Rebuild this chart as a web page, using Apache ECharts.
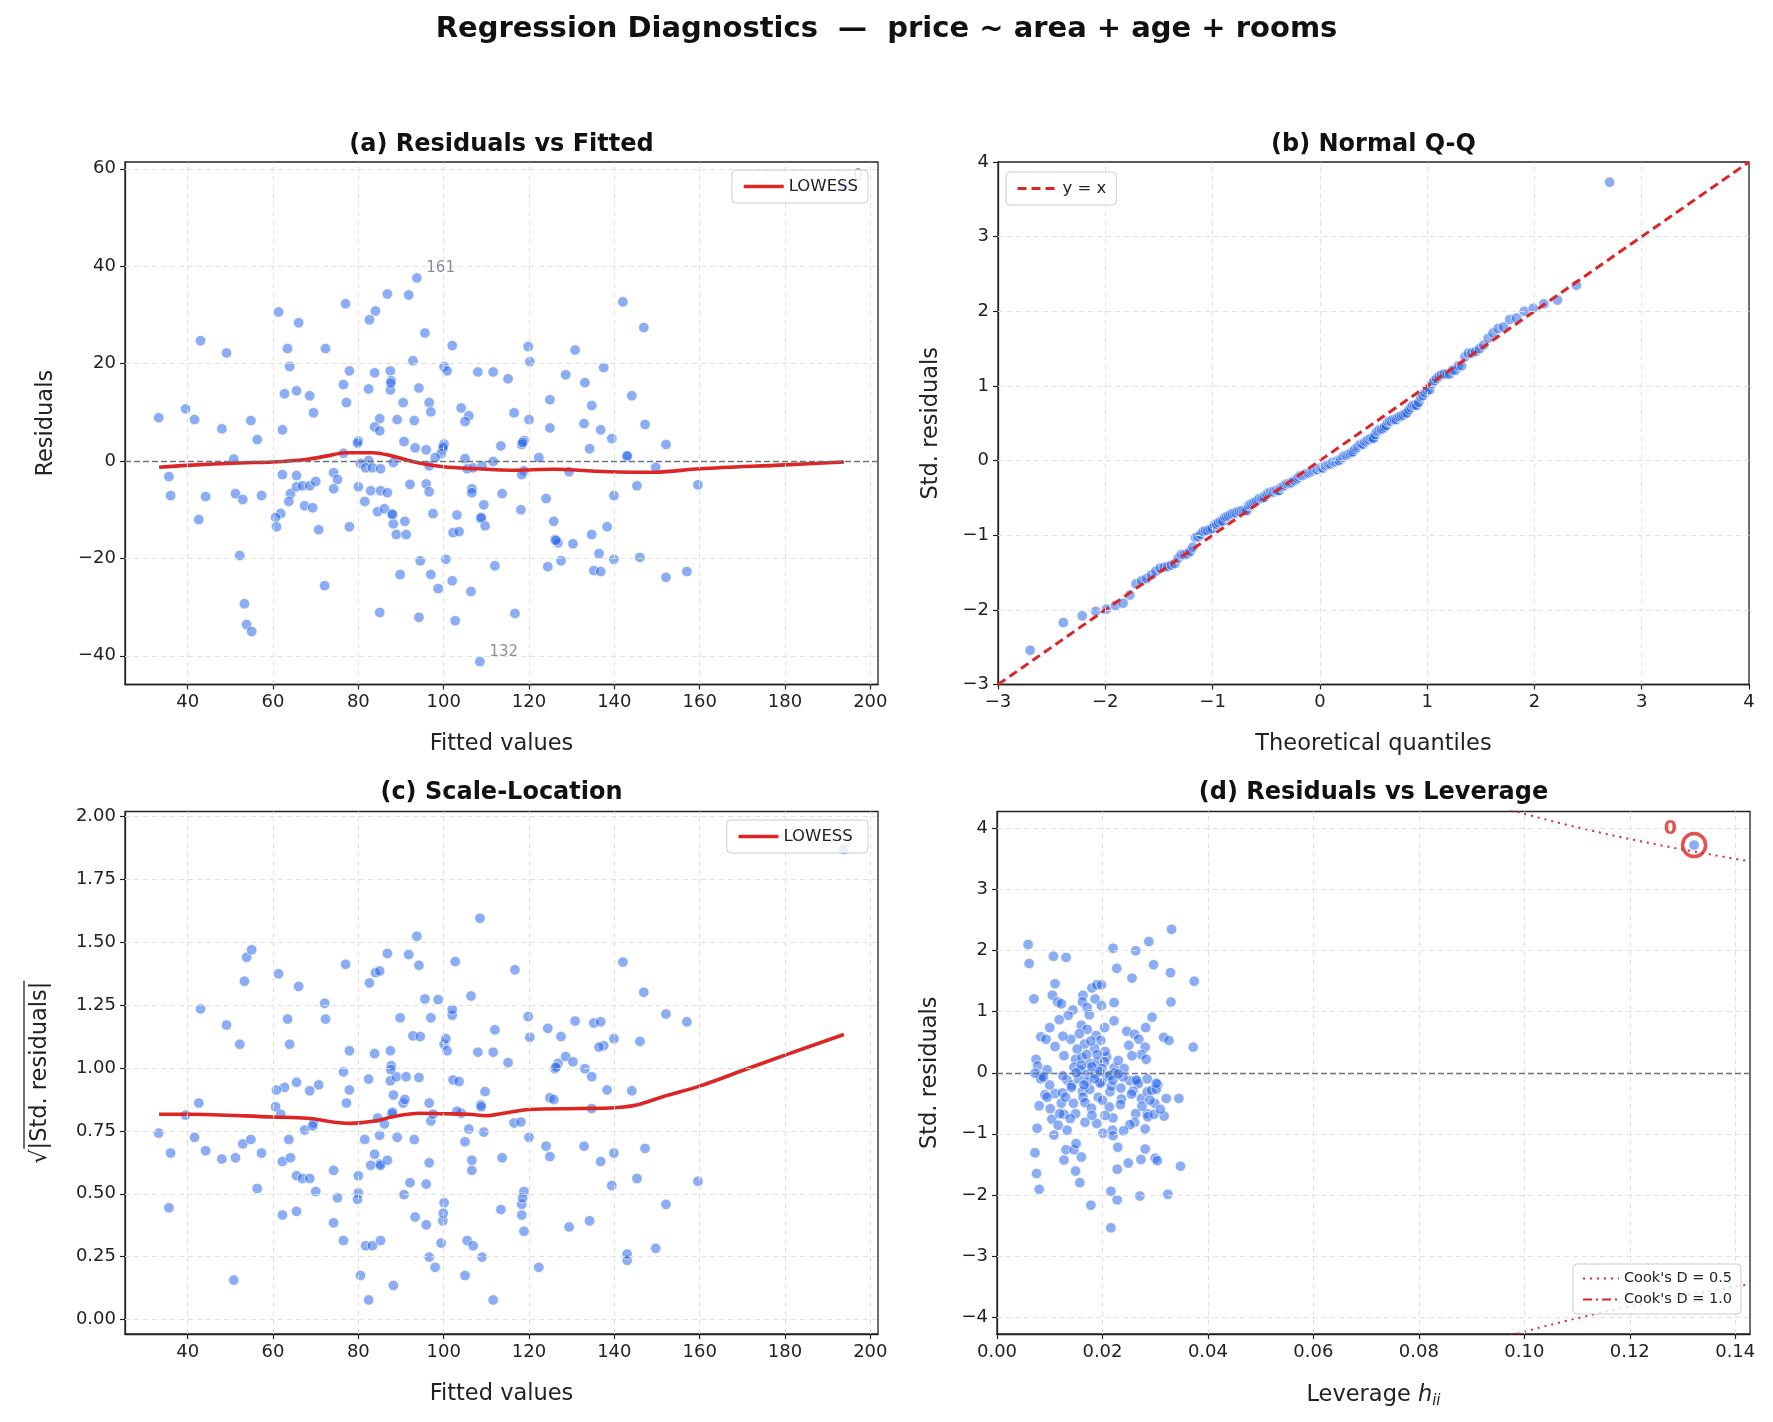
<!DOCTYPE html>
<html><head><meta charset="utf-8">
<script src="https://cdn.jsdelivr.net/npm/echarts@6/dist/echarts.min.js"></script>
<style>html,body{margin:0;padding:0;background:#fff}#c{width:1773px;height:1422px}</style>
</head><body><div id="c"></div>
<script>
// ---------- DATA ----------
// Panel (a): fitted values and raw residuals (index 0 = high-leverage point "0")
const fittedVals = [193.8,
33.2,35.6,36.0,39.5,41.6,43.0,42.6,44.2,48.0,49.1,
50.8,51.2,52.9,52.2,54.8,56.3,57.3,53.3,53.8,55.0,
61.3,66.0,63.4,63.9,72.3,62.7,65.5,68.6,69.5,62.2,
62.2,65.5,64.1,65.5,66.9,68.6,70.0,63.7,61.8,60.6,
60.8,67.4,69.3,70.7,72.1,77.0,84.0,82.6,86.8,77.9,
76.5,77.2,83.8,82.4,87.5,87.7,87.5,85.0,83.8,85.0,
80.0,79.8,76.5,74.2,75.1,74.2,80.0,77.9,80.5,82.4,
81.7,83.3,85.2,82.9,85.2,86.8,81.5,84.5,86.1,87.8,
88.2,85.0,88.2,88.0,
93.7,91.8,95.6,92.8,102.0,100.1,100.8,108.0,111.6,115.1,
119.8,120.2,130.8,128.6,133.1,137.5,142.0,146.9,144.1,147.2,
94.2,90.5,96.6,97.0,89.1,93.1,104.1,105.9,105.0,116.5,
120.0,124.9,124.9,134.7,132.9,136.8,139.4,134.2,90.7,93.3,
95.9,100.1,99.8,99.4,98.0,113.4,118.8,118.3,122.3,105.0,
105.5,106.9,109.0,111.6,96.6,118.8,118.3,129.4,143.0,92.1,
95.9,96.6,106.6,106.6,109.4,113.7,118.1,124.0,125.8,126.1,
126.8,130.3,134.7,138.3,139.9,145.3,97.5,103.1,108.7,109.7,
102.2,103.6,90.9,88.9,91.2,94.5,89.8,97.0,98.7,100.5,
102.0,106.4,112.0,94.2,102.7,116.7,108.5,124.4,127.5,135.2,
136.8,136.4,139.9,146.0,
152.1,149.7,159.6,152.1,157.0,
108.8,126.3,99.9,143.0,118.5,87.6];

const residVals = [56.5,
8.9,-3.2,-7.1,10.7,8.5,24.7,-12.0,-7.3,6.6,22.2,
0.4,-6.7,-7.9,-19.4,8.3,4.4,-7.1,-29.3,-33.6,-35.0,
30.6,28.4,23.1,19.4,23.1,13.8,14.4,13.4,9.9,6.4,
-2.8,-3.0,-6.7,-5.3,-5.1,-5.1,-4.2,-8.3,-10.8,-11.6,
-13.5,-9.2,-9.6,-14.1,-25.6,32.3,30.8,29.0,34.3,18.5,
15.7,12.0,18.1,14.8,18.5,16.5,14.6,8.7,7.0,6.2,
4.1,3.7,1.6,-2.4,-3.8,-5.7,-5.3,-13.5,-0.5,0.1,
-1.4,-1.4,-1.6,-6.1,-6.1,-6.5,-8.3,-10.4,-9.8,-10.8,
-12.9,-31.1,-0.3,-11.0,
37.6,34.1,26.3,20.6,23.7,19.4,18.5,18.3,18.3,16.9,
23.5,20.4,22.8,17.7,16.1,19.2,32.7,27.4,13.4,7.5,
15.0,12.0,12.0,10.1,8.5,8.3,10.9,9.3,8.1,9.9,
8.5,12.6,6.8,11.4,7.7,6.4,4.6,2.5,4.0,2.7,
2.3,3.5,2.5,1.5,0.7,3.1,4.2,3.4,0.7,0.5,
-1.6,-1.4,-1.0,-0.1,-1.0,-2.0,-2.8,-2.2,0.9,-4.8,
-4.7,-6.3,-5.7,-6.5,-9.0,-6.7,-10.0,-7.7,-12.4,-16.1,
-16.8,-17.0,-15.1,-13.5,-7.1,-5.1,-10.8,-11.1,-11.8,-13.3,
-14.7,-14.5,-12.4,-15.1,-15.1,-20.5,-23.3,-23.3,-26.2,-20.2,
-24.6,-26.8,-21.5,-32.1,-32.8,-31.3,-41.2,-21.7,-20.5,-22.5,
-22.7,-19.0,-20.2,-19.8,
3.4,-1.3,-4.9,-23.9,-22.7,
-11.6,-16.3,2.9,1.1,3.8,16.0];

const outlierNamesA = ['0', '132', '161'];   // labels of the three largest |residuals|
const sigmaHat = 16.2;                        // residual scale read from (a) vs (c)

// LOWESS curves
const lowessAx = [33.3,40,52,60,67.7,72.4,77.1,83.3,88,93.2,100,108,115.8,126,135.4,144.7,149.4,160,180,193.8];
const lowessAy = [-1.3,-0.9,-0.4,-0.2,0.3,1.0,1.7,1.7,1.0,-0.2,-1.2,-1.6,-1.9,-1.7,-2.1,-2.3,-2.3,-1.6,-0.8,-0.2];
const lowessCx = [33.3,40,60,68,78,84.3,88.2,94.4,100,106,110,114,120,131.9,140,145.2,151.5,160,171,180,193.8];
const lowessCy = [0.816,0.816,0.805,0.80,0.78,0.79,0.807,0.82,0.818,0.816,0.81,0.82,0.835,0.839,0.842,0.853,0.887,0.928,0.996,1.051,1.133];

// Panel (d): leverage and standardized residuals (index 0 = point "0")
const leverageVals = [0.1322,
0.0331,0.0059,0.0061,0.0107,0.0131,0.0220,0.0263,0.0288,0.0297,0.0329,
0.0374,0.0227,0.0256,0.0070,0.0110,0.0105,0.0115,0.0122,0.0163,0.0180,
0.0189,0.0198,0.0186,0.0198,0.0162,0.0171,0.0175,0.0144,0.0135,0.0118,
0.0100,0.0083,0.0093,0.0110,0.0127,0.0074,0.0077,0.0084,0.0095,0.0083,
0.0222,0.0222,0.0204,0.0160,0.0171,0.0156,0.0188,0.0197,0.0166,0.0185,
0.0152,0.0149,0.0161,0.0146,0.0158,0.0172,0.0176,0.0190,0.0208,0.0204,
0.0199,0.0186,0.0294,0.0282,0.0246,0.0261,0.0269,0.0281,0.0274,0.0283,
0.0256,0.0316,0.0326,0.0372,0.0241,0.0222,0.0223,0.0209,0.0252,0.0266,
0.0285,0.0330,0.0170,0.0180,0.0195,0.0160,0.0140,0.0205,0.0230,0.0125,
0.0178,0.0250,
0.0305,0.0091,0.0110,0.0124,0.0080,0.0101,0.0122,0.0127,0.0104,0.0116,
0.0133,0.0076,0.0108,0.0149,0.0139,0.0162,0.0176,0.0163,0.0167,0.0179,
0.0192,0.0214,0.0213,0.0220,0.0167,0.0189,0.0201,0.0219,0.0220,0.0236,
0.0234,0.0198,0.0217,0.0268,0.0274,0.0285,0.0293,0.0302,0.0299,0.0321,
0.0345,0.0285,0.0286,0.0298,0.0317,0.0263,0.0261,0.0252,0.0281,0.0072,
0.0075,0.0080,0.0127,0.0131,0.0146,0.0150,0.0160,0.0149,0.0157,0.0178,
0.0229,0.0228,0.0216,0.0228,0.0216,0.0249,0.0273,0.0281,0.0300,0.0304,
0.0271,0.0324,0.0348,
0.0072,0.0088,0.0133,0.0142,0.0195,0.0214,0.0220,0.0239,0.0264,0.0302,
0.0119,0.0141,0.0155,0.0170,0.0185,0.0130,0.0258,0.0240,0.0200,0.0180,
0.0150,0.0145,0.0290,0.0310,0.0235,0.0125,0.0165,0.0205,0.0095,0.0275,
0.0230,0.0255,0.0100,0.0190];

const stdResidVals = [3.73,
2.35,2.10,1.79,1.91,1.89,2.04,2.00,2.15,1.77,1.64,
1.50,1.71,1.55,1.21,1.46,1.27,1.16,1.13,1.27,1.39,
1.44,1.44,1.21,1.10,1.16,1.07,0.95,1.03,0.94,0.87,
0.74,0.59,0.55,0.43,0.28,0.22,0.11,-0.05,0.05,-0.10,
1.15,0.85,0.74,0.78,0.71,0.64,0.61,0.53,0.47,0.40,
0.39,0.22,0.25,0.09,0.04,-0.02,0.15,0.17,0.26,0.18,
0.07,-0.02,0.91,0.74,0.68,0.63,0.55,0.42,0.30,0.22,
0.28,0.58,0.53,0.42,0.07,0.08,0.00,-0.06,-0.13,-0.14,
-0.10,1.16,0.30,0.10,0.02,0.12,0.55,0.35,0.20,0.60,
0.52,0.45,
-0.19,-0.36,-0.34,-0.33,-0.54,-0.59,-0.50,-0.68,-0.76,-0.86,
-0.94,-0.91,-1.02,-0.67,-0.75,-0.30,-0.27,-0.40,-0.49,-0.58,
-0.40,-0.31,-0.56,-0.74,-0.81,-0.83,-0.99,-0.94,-1.03,-0.43,
-0.52,-0.16,-0.22,-0.18,-0.42,-0.31,-0.29,-0.27,-0.50,-0.42,
-0.42,-0.67,-0.72,-0.68,-0.71,-0.67,-0.81,-0.85,-0.92,-1.31,
-1.65,-1.91,-1.43,-1.26,-1.26,-1.16,-1.38,-1.61,-1.80,-2.17,
-1.22,-1.58,-1.94,-2.08,-2.54,-1.48,-1.42,-1.25,-1.40,-1.44,
-2.02,-1.99,-1.53,
-0.01,-0.07,-0.12,-0.20,-0.17,-0.04,-0.12,-0.07,-0.12,-0.17,
-0.67,-0.24,-0.10,-0.15,-0.10,-0.40,-0.30,-0.95,-0.45,-0.70,
0.00,-0.50,-0.45,-0.60,-0.25,-0.05,-0.20,-0.70,-0.40,-0.55,
-0.02,-0.35,-0.20,0.30];

const nParams = 4;                 // intercept + area + age + rooms
const cookLevels = [0.5, 1.0];
const cookNames = ["Cook's D = 0.5", "Cook's D = 1.0"];

// Tick labels
const ticksFitted = [40,60,80,100,120,140,160,180,200];
const ticksResid = [-40,-20,0,20,40,60];
const ticksQQ = [-3,-2,-1,0,1,2,3,4];
const ticksSqrt = [0,0.25,0.5,0.75,1.0,1.25,1.5,1.75,2.0];
const ticksLev = [0,0.02,0.04,0.06,0.08,0.10,0.12,0.14];
const ticksStd = [-4,-3,-2,-1,0,1,2,3,4];

// ---------- helpers ----------
function normPpf(p){
  const a=[-3.969683028665376e+01,2.209460984245205e+02,-2.759285104469687e+02,1.383577518672690e+02,-3.066479806614716e+01,2.506628277459239e+00];
  const b=[-5.447609879822406e+01,1.615858368580409e+02,-1.556989798598866e+02,6.680131188771972e+01,-1.328068155288572e+01];
  const c=[-7.784894002430293e-03,-3.223964580411365e-01,-2.400758277161838e+00,-2.549732539343734e+00,4.374664141464968e+00,2.938163982698783e+00];
  const d=[7.784695709041462e-03,3.224671290700398e-01,2.445134137142996e+00,3.754408661907416e+00];
  const pl=0.02425, ph=1-pl; let q,r;
  if(p<pl){q=Math.sqrt(-2*Math.log(p));return (((((c[0]*q+c[1])*q+c[2])*q+c[3])*q+c[4])*q+c[5])/((((d[0]*q+d[1])*q+d[2])*q+d[3])*q+1);}
  if(p>ph){q=Math.sqrt(-2*Math.log(1-p));return -(((((c[0]*q+c[1])*q+c[2])*q+c[3])*q+c[4])*q+c[5])/((((d[0]*q+d[1])*q+d[2])*q+d[3])*q+1);}
  q=p-0.5;r=q*q;return (((((a[0]*r+a[1])*r+a[2])*r+a[3])*r+a[4])*r+a[5])*q/(((((b[0]*r+b[1])*r+b[2])*r+b[3])*r+b[4])*r+1);
}
const minus = s => String(s).replace('-', '\u2212');

// ---------- derived series ----------
const ptsA = fittedVals.map((f,i)=>[f, residVals[i]]);
const ptsC = fittedVals.map((f,i)=>[f, Math.sqrt(Math.abs(residVals[i])/sigmaHat)]);
const ptsD = leverageVals.map((h,i)=>[h, stdResidVals[i]]);
const nObs = stdResidVals.length;
const sortedStd = stdResidVals.slice().sort((x,y)=>x-y);
const ptsB = sortedStd.map((v,i)=>{
  const mN = Math.pow(0.5, 1/nObs);
  let m;
  if(i===0) m = 1-mN; else if(i===nObs-1) m = mN; else m = (i+1-0.3175)/(nObs+0.365);
  return [normPpf(m), v];
});
const order = residVals.map((r,i)=>i).sort((i,j)=>Math.abs(residVals[j])-Math.abs(residVals[i]));
const labelPtsA = outlierNamesA.map((nm,k)=>({name:nm, value:ptsA[order[k]]}));
let maxLevIdx = 0; leverageVals.forEach((h,i)=>{ if(h>leverageVals[maxLevIdx]) maxLevIdx=i; });

// ---------- layout ----------
const G = [
  {left:125, top:162, width:753, height:522.5},
  {left:998, top:162, width:751, height:522.5},
  {left:125, top:811.5, width:753, height:522.5},
  {left:997, top:811.5, width:753, height:522.5}
];
const LIM = [
  {x:[25.3,201.8], y:[-45.9,61.4]},
  {x:[-3,4], y:[-3,4]},
  {x:[25.3,201.8], y:[-0.057,2.019]},
  {x:[0,0.1428], y:[-4.28,4.28]}
];
const FONT = 'DejaVu Sans';
const TICK = 18, LABEL = 22.5;
const ptColor = 'rgba(37,99,235,0.66)';
const red = '#dc2626';

function xAx(gi, ticks, fmt, name, gap){
  return {gridIndex:gi, type:'value', min:LIM[gi].x[0], max:LIM[gi].x[1],
    axisLine:{show:true, onZero:false, lineStyle:{color:'#222', width:1.3}},
    axisTick:{show:true, length:5, lineStyle:{color:'#222', width:1.2}, customValues:ticks},
    axisLabel:{customValues:ticks, formatter:fmt, fontSize:TICK, color:'#222', margin:9, fontFamily:FONT},
    splitLine:{show:false}, name, nameLocation:'middle', nameGap:gap,
    nameTextStyle:{fontSize:LABEL, color:'#222', fontFamily:FONT}};
}
function yAx(gi, ticks, fmt, name, gap){
  return {gridIndex:gi, type:'value', min:LIM[gi].y[0], max:LIM[gi].y[1],
    axisLine:{show:true, onZero:false, lineStyle:{color:'#222', width:1.3}},
    axisTick:{show:true, length:5, lineStyle:{color:'#222', width:1.2}, customValues:ticks},
    axisLabel:{customValues:ticks, formatter:fmt, fontSize:TICK, color:'#222', margin:9, fontFamily:FONT},
    splitLine:{show:false}, name, nameLocation:'middle', nameGap:gap,
    nameTextStyle:{fontSize:LABEL, color:'#222', fontFamily:FONT}};
}
function gridLines(gi, xt, yt){
  const inX = xt.filter(v=>v>LIM[gi].x[0]+1e-9 && v<LIM[gi].x[1]-1e-9);
  const inY = yt.filter(v=>v>LIM[gi].y[0]+1e-9 && v<LIM[gi].y[1]-1e-9);
  return {type:'line', xAxisIndex:gi, yAxisIndex:gi, data:[], silent:true, z:0,
    markLine:{silent:true, symbol:['none','none'], label:{show:false}, animation:false,
      lineStyle:{type:[5,4], color:'#e0e0e0', width:1},
      emphasis:{disabled:true},
      data: inX.map(v=>({xAxis:v})).concat(inY.map(v=>({yAxis:v})))}};
}
function zeroLine(gi){
  return {type:'line', xAxisIndex:gi, yAxisIndex:gi, data:[], silent:true, z:1,
    markLine:{silent:true, symbol:['none','none'], label:{show:false}, animation:false,
      lineStyle:{type:[6,3], color:'#6b7280', width:1.4}, emphasis:{disabled:true},
      data:[{yAxis:0}]}};
}
function scatter(gi, data){
  return {type:'scatter', xAxisIndex:gi, yAxisIndex:gi, data, symbolSize:10.5, z:3,
    itemStyle:{color:ptColor, borderColor:'#ffffff', borderWidth:0.8}, silent:true, animation:false};
}

// Cook's distance contours
const hGrid = [];
for(let h=0.004; h<=0.1429; h+=0.0005) hGrid.push(h);
const cookSeries = [];
cookLevels.forEach((D,k)=>{
  [1,-1].forEach(sgn=>{
    cookSeries.push({type:'line', name:cookNames[k], xAxisIndex:3, yAxisIndex:3, symbol:'none', z:2,
      data:hGrid.map(h=>[h, sgn*Math.sqrt(D*nParams*(1-h)/h)]), clip:true, silent:true, animation:false,
      lineStyle:{color:'#e02424', width:2, type: k===0 ? [2,5] : [9,4,2,4]}, itemStyle:{color:'#e02424'}});
  });
});

const legendBase = {orient:'vertical', backgroundColor:'rgba(255,255,255,0.8)',
  borderColor:'#cccccc', borderWidth:1, borderRadius:4, selectedMode:false, z:10,
  itemStyle:{color:'rgba(0,0,0,0)', borderColor:'rgba(0,0,0,0)', borderWidth:0, opacity:0}};

// overline of the sqrt in the (c) y-label
const ovX = 24, ovMid = 811.5 + 522.5/2;

const option = {
  animation:false,
  textStyle:{fontFamily:FONT},
  grid: G.map(g=>Object.assign({show:true, borderColor:'#222', borderWidth:1.3, backgroundColor:'#fff', containLabel:false}, g)),
  xAxis:[
    xAx(0, ticksFitted, v=>minus(v), 'Fitted values', 48),
    xAx(1, ticksQQ, v=>minus(v), 'Theoretical quantiles', 48),
    xAx(2, ticksFitted, v=>minus(v), 'Fitted values', 49),
    Object.assign(xAx(3, ticksLev, v=>v.toFixed(2), 'Leverage {i|h}{s|ii}', 48),
      {nameTextStyle:{fontSize:LABEL, color:'#222', fontFamily:FONT,
        rich:{i:{fontStyle:'italic', fontSize:LABEL, color:'#222', fontFamily:FONT},
              s:{fontStyle:'italic', fontSize:15, color:'#222', fontFamily:FONT, padding:[12,0,0,0]}}}})
  ],
  yAxis:[
    yAx(0, ticksResid, v=>minus(v), 'Residuals', 67),
    yAx(1, ticksQQ, v=>minus(v), 'Std. residuals', 55),
    yAx(2, ticksSqrt, v=>v.toFixed(2), '\u221A|Std. residuals|', 73),
    yAx(3, ticksStd, v=>minus(v), 'Std. residuals', 55)
  ],
  legend:[
    Object.assign({}, legendBase, {data:['LOWESS'], right:1773-868, top:170, padding:[8,10], itemWidth:40, itemHeight:12,
     lineStyle:{width:3.6}, textStyle:{fontSize:16.5, color:'#222'}}),
    Object.assign({}, legendBase, {data:['y = x'], left:1006, top:172, padding:[8,10], itemWidth:40, itemHeight:12,
     lineStyle:{width:3}, textStyle:{fontSize:16.5, color:'#222'}}),
    Object.assign({}, legendBase, {data:['LOWESS '], right:1773-868, top:820, padding:[8,10], itemWidth:40, itemHeight:12,
     lineStyle:{width:3.6}, textStyle:{fontSize:16.5, color:'#222'}}),
    Object.assign({}, legendBase, {data:cookNames, right:1773-1741, top:1264, padding:[7,9], itemGap:6, itemWidth:36, itemHeight:12,
     lineStyle:{width:2}, textStyle:{fontSize:14.5, color:'#222'}})
  ],
  graphic:[
    {type:'text', left:'center', top:15, style:{text:'Regression Diagnostics  \u2014  price ~ area + age + rooms', font:'bold 29px "DejaVu Sans"', fill:'#111'}},
    {type:'text', x:501.5, y:144.5, style:{text:'(a) Residuals vs Fitted', font:'bold 24px "DejaVu Sans"', fill:'#111', align:'center', verticalAlign:'middle'}},
    {type:'text', x:1373.5, y:144.5, style:{text:'(b) Normal Q-Q', font:'bold 24px "DejaVu Sans"', fill:'#111', align:'center', verticalAlign:'middle'}},
    {type:'text', x:501.5, y:793, style:{text:'(c) Scale-Location', font:'bold 24px "DejaVu Sans"', fill:'#111', align:'center', verticalAlign:'middle'}},
    {type:'text', x:1373.5, y:793, style:{text:'(d) Residuals vs Leverage', font:'bold 24px "DejaVu Sans"', fill:'#111', align:'center', verticalAlign:'middle'}},
    {type:'line', shape:{x1:ovX, y1:ovMid+76, x2:ovX, y2:ovMid-92}, style:{stroke:'#222', lineWidth:1.3}}
  ],
  series:[
    gridLines(0, ticksFitted, ticksResid), zeroLine(0), scatter(0, ptsA),
    {type:'line', name:'LOWESS', xAxisIndex:0, yAxisIndex:0, data:lowessAx.map((x,i)=>[x,lowessAy[i]]),
     symbol:'none', smooth:0.35, z:4, lineStyle:{color:red, width:3.6}, itemStyle:{color:red}, silent:true},
    {type:'scatter', xAxisIndex:0, yAxisIndex:0, data:labelPtsA, symbolSize:1, z:5, silent:true,
     itemStyle:{color:'rgba(0,0,0,0)'},
     label:{show:true, formatter:p=>p.name, position:'right', distance:5, offset:[4,-10], color:'#6b7280', fontSize:15, fontFamily:FONT}},

    gridLines(1, ticksQQ, ticksQQ), scatter(1, ptsB),
    {type:'line', name:'y = x', xAxisIndex:1, yAxisIndex:1, data:[[LIM[1].x[0],LIM[1].x[0]],[LIM[1].x[1],LIM[1].x[1]]],
     symbol:'none', z:4, lineStyle:{color:red, width:3, type:[9,5]}, itemStyle:{color:red}, silent:true},

    gridLines(2, ticksFitted, ticksSqrt), scatter(2, ptsC),
    {type:'line', name:'LOWESS ', xAxisIndex:2, yAxisIndex:2, data:lowessCx.map((x,i)=>[x,lowessCy[i]]),
     symbol:'none', smooth:0.35, z:4, lineStyle:{color:red, width:3.6}, itemStyle:{color:red}, silent:true},

    gridLines(3, ticksLev, ticksStd), zeroLine(3), scatter(3, ptsD),
    ...cookSeries,
    {type:'scatter', xAxisIndex:3, yAxisIndex:3, data:[{name:String(maxLevIdx), value:ptsD[maxLevIdx]}], symbolSize:23, z:6, silent:true,
     itemStyle:{color:'rgba(0,0,0,0)', borderColor:red, borderWidth:3.5},
     label:{show:true, formatter:p=>p.name, position:'left', distance:2, offset:[-2,-16], color:red, fontSize:19, fontWeight:'bold', fontFamily:FONT}}
  ]
};
const chart = echarts.init(document.getElementById('c'), null, {renderer:'canvas', width:1773, height:1422});
chart.setOption(option);
</script></body></html>
